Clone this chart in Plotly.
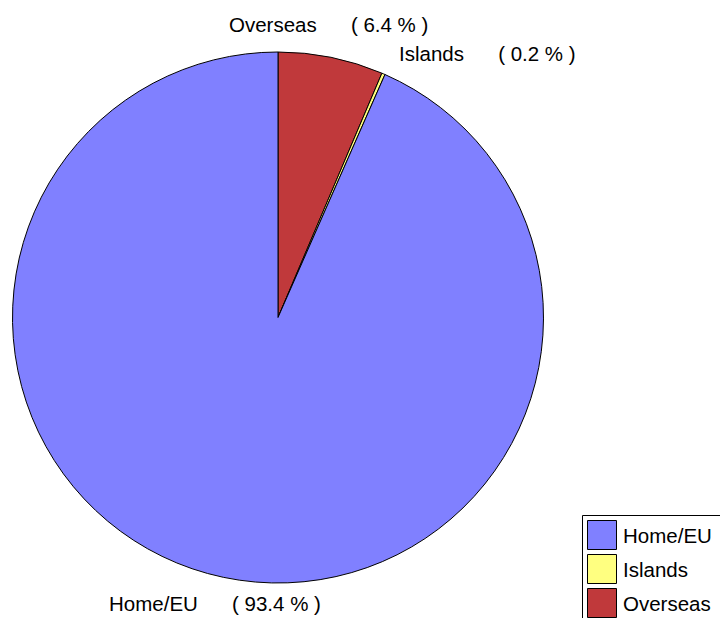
import math
import plotly.graph_objects as go

labels = ["Home/EU", "Islands", "Overseas"]
values = [93.4, 0.2, 6.4]
colors = ["#8080FF", "#FFFF80", "#C0393B"]

W, H = 720, 618
FONT = dict(family="Liberation Sans, Arial, sans-serif", size=20.5, color="#000000")

# pie geometry (pixels)
cx, cy, r = 278, 317.5, 265.5

# pie is drawn clockwise from 12 o'clock, starting with Overseas
pie_labels = labels[::-1]
pie_values = values[::-1]
pie_colors = colors[::-1]

fig = go.Figure(go.Pie(
    labels=pie_labels, values=pie_values, sort=False, direction="clockwise",
    rotation=0, textinfo="none", hoverinfo="label+percent",
    marker=dict(colors=pie_colors, line=dict(color="#000000", width=1)),
    domain=dict(x=[(cx - r) / W, (cx + r) / W], y=[1 - (cy + r) / H, 1 - (cy - r) / H]),
    showlegend=False,
))

def px(x):
    return x / W

def py(y):
    return 1 - y / H

# Outside labels placed at the mid-angle of each slice
total = sum(values)
anchors = {"Home/EU": ("center", -3, 0), "Islands": ("left", 3, 4), "Overseas": ("center", -8, -7)}
start = 0.0  # clockwise from 12 o'clock, in degrees
annotations = []
for lab, val in zip(pie_labels, pie_values):
    span = val / total * 360
    mid = start + span / 2
    start += span
    theta = math.radians(mid)
    R = 292
    x = cx + R * math.sin(theta)
    y = cy - R * math.cos(theta)
    xa, dx, dy = anchors[lab]
    pct = val / total * 100
    annotations.append(dict(
        x=px(x + dx), y=py(y + dy), xref="paper", yref="paper",
        text=f"{lab}{chr(160) * 6}( {pct:.1f} % )", showarrow=False,
        xanchor=xa, yanchor="middle", font=FONT,
    ))

# Legend drawn as a boxed list
shapes = [dict(type="rect", xref="paper", yref="paper",
               x0=px(582.5), x1=px(730), y0=py(515.5), y1=py(630),
               line=dict(color="#000000", width=1), fillcolor="rgba(0,0,0,0)")]
row0, pitch = 535, 34
for i, (lab, col) in enumerate(zip(labels, colors)):
    yc = row0 + i * pitch
    shapes.append(dict(type="rect", xref="paper", yref="paper",
                       x0=px(587.5), x1=px(616.5), y0=py(yc - 14.5), y1=py(yc + 14.5),
                       line=dict(color="#000000", width=1), fillcolor=col))
    annotations.append(dict(x=px(621), y=py(yc), xref="paper", yref="paper",
                            text=lab, showarrow=False, xanchor="left", yanchor="middle",
                            font=FONT))

fig.update_layout(
    width=W, height=H, margin=dict(l=0, r=0, t=0, b=0),
    paper_bgcolor="#FFFFFF", plot_bgcolor="#FFFFFF",
    shapes=shapes, annotations=annotations, showlegend=False,
)

fig.write_html(
    "out.html",
    config={"displayModeBar": False},
    post_script="document.body.style.margin='0';document.body.style.overflow='hidden';",
)
